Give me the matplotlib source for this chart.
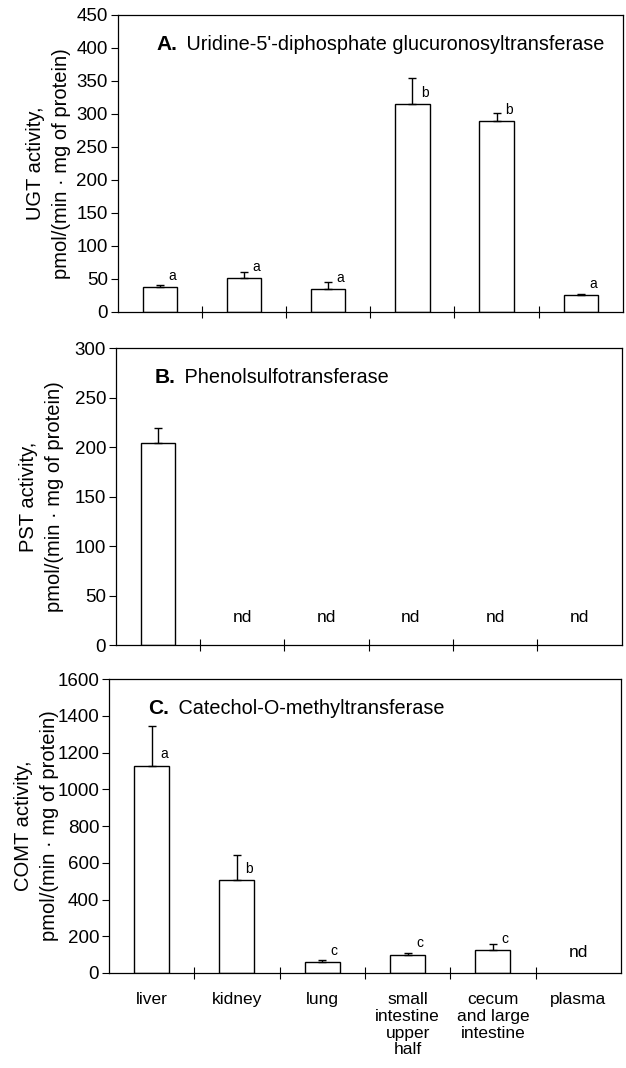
import numpy as np
import matplotlib.pyplot as plt

plt.rcParams['font.family'] = ['Liberation Sans', 'DejaVu Sans']

# tissues
tissues = ['liver', 'kidney', 'lung', 'small\nintestine\nupper\nhalf',
           'cecum\nand large\nintestine', 'plasma']

# A. UGT activity (mean, upper error), pmol/(min * mg protein)
ugt_mean = [38, 51, 35, 315, 289, 26]
ugt_err = [3, 9, 11, 40, 12, 1]
ugt_sig = ['a', 'a', 'a', 'b', 'b', 'a']

# B. PST activity, nd = not detected
pst_mean = [204, 0, 0, 0, 0, 0]
pst_err = [15, 0, 0, 0, 0, 0]
pst_sig = ['', 'nd', 'nd', 'nd', 'nd', 'nd']

# C. COMT activity
comt_mean = [1130, 505, 58, 100, 125, 0]
comt_err = [215, 135, 10, 6, 35, 0]
comt_sig = ['a', 'b', 'c', 'c', 'c', 'nd']

panels = [
    ('A.', ' Uridine-5\'-diphosphate glucuronosyltransferase', 'UGT activity,',
     ugt_mean, ugt_err, ugt_sig, 450, 50, [0.188, 0.708, 0.807, 0.278], 0.09, -0.093),
    ('B.', ' Phenolsulfotransferase', 'PST activity,',
     pst_mean, pst_err, pst_sig, 300, 50, [0.185, 0.396, 0.808, 0.278], 0.094, -0.103),
    ('C.', ' Catechol-O-methyltransferase', 'COMT activity,',
     comt_mean, comt_err, comt_sig, 1600, 200, [0.174, 0.089, 0.818, 0.275], 0.068, -0.098),
]

fig = plt.figure(figsize=(6.26, 10.68), dpi=100)
x = np.arange(len(tissues))

for i, (letter, name, ylab, mean, err, sig, ymax, step, pos, nd_y, lab_x) in enumerate(panels):
    ax = fig.add_axes(pos)
    mean = np.array(mean, dtype=float)
    err = np.array(err, dtype=float)
    det = np.array([s != 'nd' for s in sig])
    ax.bar(x[det], mean[det], width=0.41, color='white', edgecolor='black', linewidth=1)
    ax.errorbar(x[det], mean[det], yerr=[np.zeros(det.sum()), err[det]], fmt='none',
                ecolor='black', elinewidth=1, capsize=3, capthick=1)
    for j in range(len(x)):
        if sig[j] == 'nd':
            ax.text(x[j], nd_y, 'nd', transform=ax.get_xaxis_transform(),
                    ha='center', va='center', fontsize=12.5)
        elif sig[j]:
            ax.annotate(sig[j], (x[j] + 0.1, mean[j]), xytext=(0, 3),
                        textcoords='offset points', ha='left', va='bottom', fontsize=10)
    ax.set_xlim(-0.5, 5.5)
    ax.set_ylim(0, ymax)
    ax.set_yticks(np.arange(0, ymax + 1, step))
    ax.set_xticks(np.arange(0.5, 5.5, 1))
    ax.set_xticklabels([])
    ax.tick_params(axis='x', direction='inout', length=8, width=0.8)
    ax.tick_params(axis='y', direction='out', length=5, width=0.8, labelsize=13.5, pad=2)
    for s in ax.spines.values():
        s.set_linewidth(0.9)
    ax.set_ylabel(ylab + '\npmol/(min \u00b7 mg of protein)', fontsize=14.5,
                  linespacing=1.45)
    ax.yaxis.set_label_coords(lab_x, 0.5)
    ax.text(0.077, 0.90, letter, transform=ax.transAxes, fontsize=15,
            fontweight='bold', va='center', ha='left')
    ax.text(0.125, 0.90, name, transform=ax.transAxes, fontsize=14.3,
            va='center', ha='left')
    if i == 2:
        for j, t in enumerate(tissues):
            ax.text(x[j], -0.065, t, transform=ax.get_xaxis_transform(),
                    ha='center', va='top', fontsize=12.5, linespacing=1.15)

fig.savefig('out.png', dpi=100)
